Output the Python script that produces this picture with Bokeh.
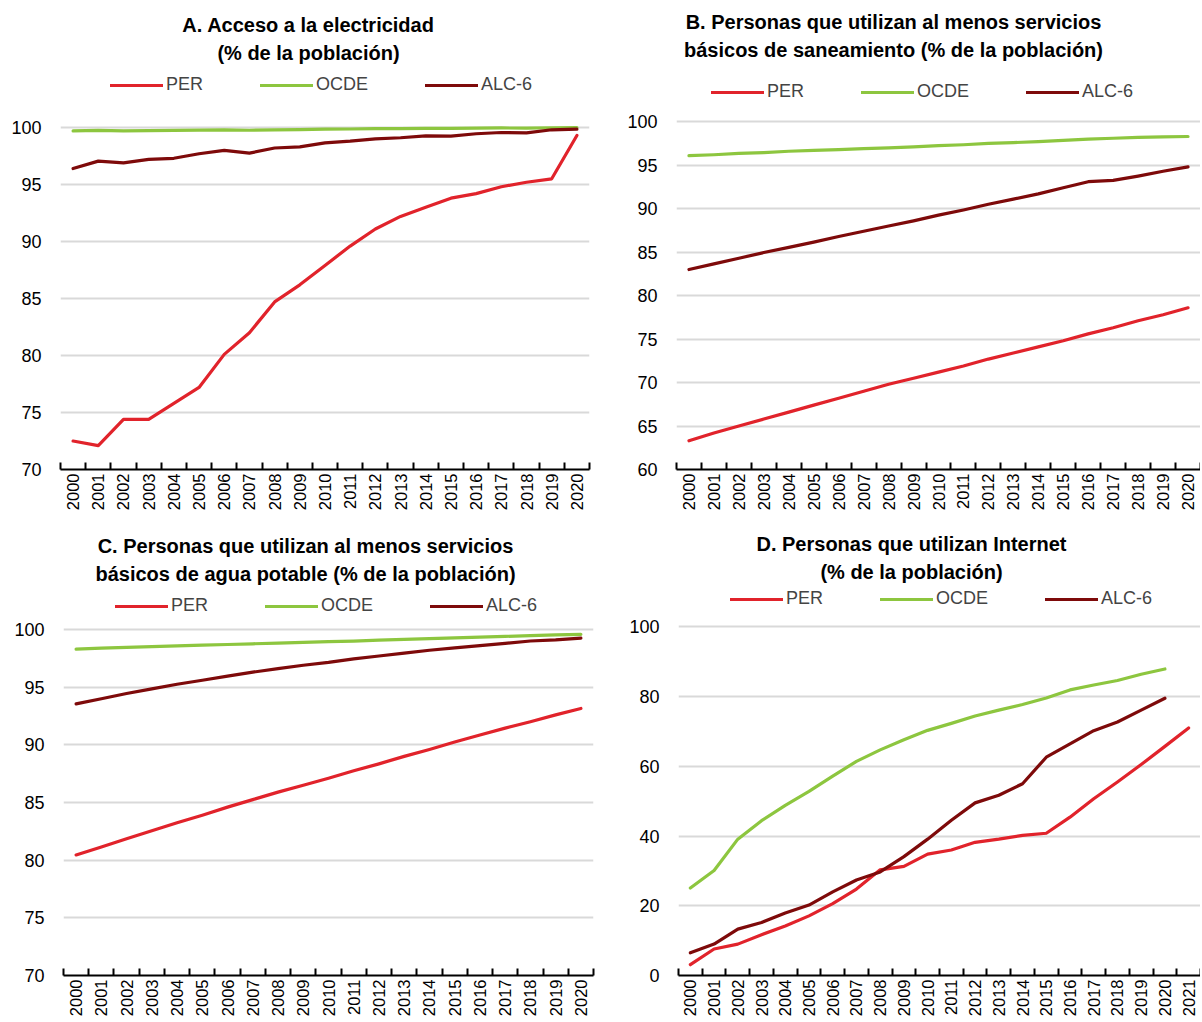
from math import pi
from bokeh.plotting import figure
from bokeh.models import FixedTicker, Legend, LegendItem, Label, Range1d, NumeralTickFormatter
from bokeh.layouts import column, row
from bokeh.embed import file_html
from bokeh.resources import INLINE

FONT = "Liberation Sans"

series_names = ["PER", "OCDE", "ALC-6"]
series_colors = ["#E1232B", "#8DC63F", "#7E0A0A"]

years_a = list(range(2000, 2021))
years_d = list(range(2000, 2022))

# A. Acceso a la electricidad (% de la población)
elec_per = [72.5, 72.1, 74.4, 74.4, 75.8, 77.2, 80.1, 82.0, 84.7, 86.2, 87.9,
            89.6, 91.1, 92.2, 93.0, 93.8, 94.2, 94.8, 95.2, 95.5, 99.3]
elec_ocde = [99.70, 99.75, 99.70, 99.72, 99.74, 99.77, 99.80, 99.76, 99.80, 99.82, 99.85,
             99.87, 99.90, 99.90, 99.92, 99.93, 99.95, 99.96, 99.95, 99.98, 100.0]
elec_alc = [96.4, 97.05, 96.9, 97.2, 97.3, 97.7, 98.0, 97.75, 98.2, 98.3, 98.65,
            98.8, 99.0, 99.1, 99.27, 99.24, 99.45, 99.56, 99.53, 99.8, 99.85]

# B. Saneamiento básico
san_per = [63.3, 64.2, 65.0, 65.8, 66.6, 67.4, 68.2, 69.0, 69.8, 70.5, 71.2,
           71.9, 72.7, 73.4, 74.1, 74.8, 75.6, 76.3, 77.1, 77.8, 78.6]
san_ocde = [96.1, 96.2, 96.35, 96.45, 96.6, 96.7, 96.8, 96.9, 97.0, 97.1, 97.25,
            97.35, 97.5, 97.6, 97.7, 97.85, 98.0, 98.1, 98.2, 98.25, 98.3]
san_alc = [83.0, 83.65, 84.3, 84.95, 85.55, 86.15, 86.8, 87.4, 88.0, 88.6, 89.25,
           89.85, 90.5, 91.1, 91.7, 92.4, 93.1, 93.25, 93.75, 94.3, 94.8]

# C. Agua potable básica
agua_per = [80.45, 81.15, 81.85, 82.55, 83.25, 83.9, 84.6, 85.25, 85.9, 86.5, 87.1,
            87.75, 88.35, 89.0, 89.6, 90.25, 90.85, 91.45, 92.0, 92.6, 93.15]
agua_ocde = [98.3, 98.38, 98.45, 98.52, 98.58, 98.65, 98.7, 98.76, 98.82, 98.88, 98.94,
             99.0, 99.07, 99.14, 99.2, 99.27, 99.33, 99.4, 99.47, 99.53, 99.58]
agua_alc = [93.55, 94.0, 94.45, 94.85, 95.25, 95.6, 95.95, 96.3, 96.6, 96.9, 97.15,
            97.45, 97.7, 97.95, 98.2, 98.4, 98.6, 98.8, 99.0, 99.1, 99.25]

# D. Internet
int_per = [3.1, 7.6, 9.0, 11.7, 14.2, 17.1, 20.6, 24.8, 30.3, 31.3, 34.8,
           36.0, 38.2, 39.1, 40.2, 40.8, 45.4, 50.7, 55.5, 60.5, 65.7, 71.0]
int_ocde = [25.1, 30.1, 39.1, 44.4, 48.8, 52.8, 57.2, 61.4, 64.7, 67.6, 70.3,
            72.3, 74.4, 76.1, 77.7, 79.6, 81.9, 83.3, 84.6, 86.4, 87.9]
int_alc = [6.5, 9.0, 13.3, 15.2, 17.9, 20.2, 24.0, 27.4, 29.7, 34.1, 39.1,
           44.5, 49.5, 51.7, 55.0, 62.6, 66.4, 70.2, 72.7, 76.1, 79.5]

ticks_a = [70, 75, 80, 85, 90, 95, 100]
ticks_b = [60, 65, 70, 75, 80, 85, 90, 95, 100]
ticks_c = [70, 75, 80, 85, 90, 95, 100]
ticks_d = [0, 20, 40, 60, 80, 100]

titles_a = ["A. Acceso a la electricidad", "(% de la población)"]
titles_b = ["B. Personas que utilizan al menos servicios", "básicos de saneamiento (% de la población)"]
titles_c = ["C. Personas que utilizan al menos servicios", "básicos de agua potable (% de la población)"]
titles_d = ["D. Personas que utilizan Internet", "(% de la población)"]


def panel(width, height, mbl, mbr, mbb, years, y_start, y_end, yticks, data,
          titles, title_x, title_ys, leg_loc):
    p = figure(width=width, height=height, output_backend="svg", toolbar_location=None,
               x_range=Range1d(years[0] - 0.5, years[-1] + 0.5),
               y_range=Range1d(y_start, y_end),
               min_border_left=mbl, min_border_right=mbr, min_border_top=0,
               min_border_bottom=mbb)
    p.outline_line_color = None
    p.background_fill_color = "white"
    p.xgrid.visible = False
    p.ygrid.ticker = FixedTicker(ticks=yticks)
    p.ygrid.grid_line_color = "#D9D9D9"
    p.ygrid.grid_line_width = 2

    ya = p.yaxis[0]
    ya.ticker = FixedTicker(ticks=yticks)
    ya.axis_line_color = None
    ya.major_tick_line_color = None
    ya.minor_tick_line_color = None
    ya.major_tick_out = 0
    ya.major_label_standoff = 19
    ya.major_label_text_font = FONT
    ya.major_label_text_font_size = "18px"
    ya.major_label_text_color = "#000000"

    xa = p.xaxis[0]
    bounds = [y - 0.5 for y in years] + [years[-1] + 0.5]
    xa.ticker = FixedTicker(ticks=years, minor_ticks=bounds)
    xa.formatter = NumeralTickFormatter(format="0")
    xa.axis_line_color = "#000000"
    xa.axis_line_width = 2
    xa.major_tick_line_color = None
    xa.major_tick_out = 0
    xa.major_tick_in = 0
    xa.minor_tick_line_color = "#000000"
    xa.minor_tick_line_width = 2
    xa.minor_tick_in = 7
    xa.minor_tick_out = 0
    xa.major_label_orientation = pi / 2
    xa.major_label_standoff = 4
    xa.major_label_text_font = FONT
    xa.major_label_text_font_size = "16.5px"
    xa.major_label_text_color = "#000000"

    items = []
    for name, color, vals in zip(series_names, series_colors, data):
        r = p.line(years[:len(vals)], vals, line_color=color, line_width=3.2,
                   line_join="round", line_cap="round")
        items.append(LegendItem(label=name, renderers=[r]))
    leg = Legend(items=items, orientation="horizontal", location=leg_loc,
                 glyph_width=53, glyph_height=20, label_standoff=3, spacing=57,
                 padding=0, margin=0, border_line_color=None, background_fill_alpha=0,
                 label_text_font=FONT, label_text_font_size="18px", label_height=20)
    p.add_layout(leg)
    for t, ty in zip(titles, title_ys):
        p.add_layout(Label(x=title_x, y=ty, x_units="screen", y_units="screen", text=t,
                           text_align="center", text_baseline="middle", text_font=FONT,
                           text_font_style="bold", text_font_size="20px",
                           text_color="#000000"))
    return p


pa = panel(600, 520, 60, 11, 51, years_a, 70, 111.14, ticks_a,
           [elec_per, elec_ocde, elec_alc], titles_a, 248, [445, 417], (50, 374))
pb = panel(600, 520, 76, 0, 48, years_a, 60, 113.94, ticks_b,
           [san_per, san_ocde, san_alc], titles_b, 217, [448, 420], (35, 367))
pc = panel(600, 500, 63, 7, 45, years_a, 70, 109.45, ticks_c,
           [agua_per, agua_ocde, agua_alc], titles_c, 242, [430, 402], (52, 359))
pd_ = panel(600, 500, 78, 0, 42, years_d, 0, 130.48, ticks_d,
            [int_per, int_ocde, int_alc], titles_d, 233, [432, 404], (52, 366))

layout = column(row(pa, pb), row(pc, pd_))
open("out.html", "w").write(file_html(layout, INLINE))
